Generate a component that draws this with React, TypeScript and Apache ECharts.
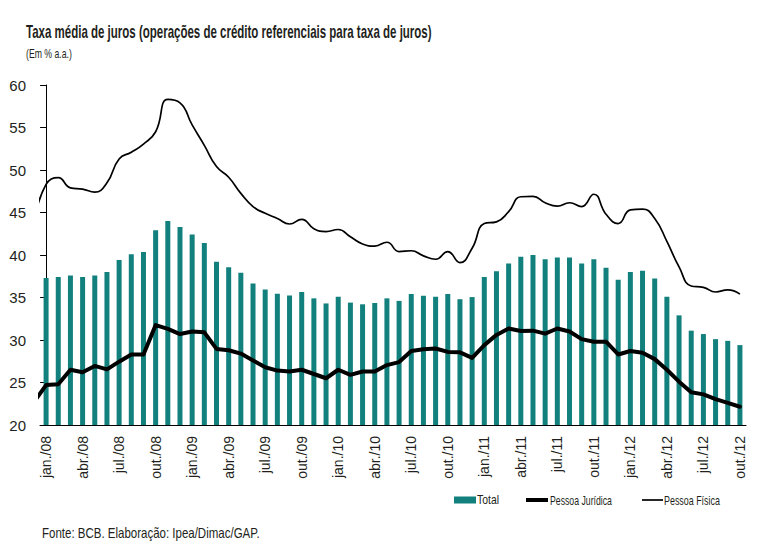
import React, { useEffect, useRef } from 'react';
import * as echarts from 'echarts';

const monthNames = ['jan.', 'fev.', 'mar.', 'abr.', 'mai.', 'jun.', 'jul.', 'ago.', 'set.', 'out.', 'nov.', 'dez.'];
const years = ['08', '09', '10', '11', '12'];
const categories = years.flatMap((y) => monthNames.map((m) => `${m}/${y}`)).slice(0, 58);

// Total (bars)
const total = [
  37.3, 37.4, 37.6, 37.4, 37.6, 38.0, 39.4, 40.1, 40.35, 42.9,
  44.0, 43.3, 42.4, 41.4, 39.2, 38.55, 37.9, 36.65, 35.95, 35.45,
  35.25, 35.65, 34.9, 34.3, 35.1, 34.4, 34.2, 34.35, 34.9, 34.6,
  35.4, 35.2, 35.1, 35.4, 34.8, 35.05, 37.4, 38.1, 39.0, 39.8,
  40.0, 39.5, 39.7, 39.7, 39.0, 39.5, 38.5, 37.1, 38.0, 38.15,
  37.25, 35.1, 32.9, 31.1, 30.7, 30.1, 29.9, 29.4,
];

// Pessoa Jurídica (thick line)
const pessoaJuridica = [
  24.7, 24.8, 26.5, 26.2, 26.95, 26.55, 27.45, 28.3, 28.3, 31.75,
  31.3, 30.7, 31.0, 30.9, 28.95, 28.8, 28.4, 27.6, 26.8, 26.4,
  26.3, 26.5, 26.0, 25.5, 26.5, 25.9, 26.3, 26.3, 27.05, 27.4,
  28.7, 28.9, 29.0, 28.6, 28.55, 27.9, 29.4, 30.6, 31.35, 31.05,
  31.1, 30.75, 31.35, 31.0, 30.1, 29.8, 29.8, 28.3, 28.7, 28.5,
  27.75, 26.5, 25.1, 23.85, 23.6, 23.05, 22.6, 22.15,
];

// Pessoa Física (thin line)
const pessoaFisica = [
  48.3, 49.1, 47.9, 47.75, 47.4, 48.5, 51.3, 52.1, 53.05, 54.5,
  58.3, 57.9, 55.3, 52.9, 50.4, 49.15, 47.25, 45.7, 44.9, 44.3,
  43.65, 44.2, 43.1, 42.75, 43.0, 42.15, 41.3, 41.05, 41.5, 40.4,
  40.5, 39.9, 39.5, 40.4, 39.1, 40.8, 43.7, 43.9, 45.1, 46.85,
  46.9, 46.15, 45.75, 46.15, 45.7, 47.15, 44.8, 43.7, 45.3, 45.4,
  44.3, 41.6, 38.6, 36.35, 36.2, 35.65, 35.9, 35.4,
];

// Previous month (dez./07), only visible as the clipped start of the lines
const priorPessoaJuridica = 22.7;
const priorPessoaFisica = 44.0;

const yMin = 20;
const yMax = 60;
const yInterval = 5;

const SERIES_NAMES = ['Total', 'Pessoa Jurídica', 'Pessoa Física'];

const TITLE = 'Taxa média de juros (operações de crédito referenciais para taxa de juros)';
const SUBTITLE = '(Em % a.a.)';
const SOURCE = 'Fonte: BCB. Elaboração: Ipea/Dimac/GAP.';

const TEAL = '#12807d';
const TEXT = '#231f20';
const FONT = "'Liberation Sans', Arial, sans-serif";

function fitScale(text: string, font: string, target: number): number {
  const c = document.createElement('canvas');
  const ctx = c.getContext('2d');
  if (!ctx) return 1;
  ctx.font = font;
  const w = ctx.measureText(text).width;
  return w > 0 ? target / w : 1;
}

function withIndex(prior: number, arr: number[]) {
  return [[-1, prior], ...arr.map((v, i) => [i, v])];
}

function scaledText(text: string, font: string, x: number, y: number, width: number) {
  return {
    type: 'text',
    x,
    y,
    scaleX: fitScale(text, font, width),
    style: { text, font, fill: TEXT, verticalAlign: 'middle' },
  };
}

export default function App() {
  const ref = useRef<HTMLDivElement>(null);

  useEffect(() => {
    if (!ref.current) return;
    const chart = echarts.init(ref.current, undefined, { renderer: 'svg' });

    const titleFont = `bold 19px ${FONT}`;
    const subFont = `13px ${FONT}`;
    const srcFont = `14px ${FONT}`;
    const legFont = `12.5px ${FONT}`;

    // legend layout (icon left, text left, text width)
    const legY = 500;
    const legendGraphic = [
      { type: 'rect', shape: { x: 454, y: legY - 3.5, width: 22, height: 7 }, style: { fill: TEAL } },
      scaledText(SERIES_NAMES[0], legFont, 477, legY, 22),
      { type: 'line', shape: { x1: 526, y1: legY, x2: 548, y2: legY }, style: { stroke: '#000', lineWidth: 4 } },
      scaledText(SERIES_NAMES[1], legFont, 550, legY, 62),
      { type: 'line', shape: { x1: 642, y1: legY, x2: 663, y2: legY }, style: { stroke: '#000', lineWidth: 1.7 } },
      scaledText(SERIES_NAMES[2], legFont, 664, legY, 56),
    ];

    chart.setOption({
      animation: false,
      backgroundColor: '#ffffff',
      grid: { left: 40, right: 12, top: 85, bottom: 118, containLabel: false },
      graphic: [
        scaledText(TITLE, titleFont, 26, 31, 406),
        scaledText(SUBTITLE, subFont, 26, 53, 46),
        scaledText(SOURCE, srcFont, 42, 533, 218),
        ...legendGraphic,
      ],
      xAxis: [
        {
          type: 'category',
          data: categories,
          boundaryGap: true,
          axisLine: { lineStyle: { color: '#000', width: 1 } },
          axisTick: { interval: 2, length: 5, lineStyle: { color: '#000' } },
          axisLabel: {
            interval: 2,
            rotate: 90,
            margin: 11,
            fontSize: 14,
            color: TEXT,
            fontFamily: FONT,
          },
        },
        { type: 'value', min: -0.5, max: 57.5, show: false },
      ],
      yAxis: {
        type: 'value',
        min: yMin,
        max: yMax,
        interval: yInterval,
        axisLine: { show: true, lineStyle: { color: '#000', width: 1 } },
        axisTick: { show: true, length: 6, lineStyle: { color: '#000' } },
        splitLine: { show: false },
        axisLabel: { fontSize: 15, margin: 14, color: TEXT, fontFamily: FONT },
      },
      series: [
        {
          name: SERIES_NAMES[0],
          type: 'bar',
          data: total,
          barWidth: 5,
          itemStyle: { color: TEAL },
        },
        {
          name: SERIES_NAMES[1],
          type: 'line',
          xAxisIndex: 1,
          data: withIndex(priorPessoaJuridica, pessoaJuridica),
          symbol: 'none',
          clip: true,
          smooth: false,
          itemStyle: { color: '#000' },
          lineStyle: { color: '#000', width: 4, join: 'round', cap: 'round' },
          z: 3,
        },
        {
          name: SERIES_NAMES[2],
          type: 'line',
          xAxisIndex: 1,
          data: withIndex(priorPessoaFisica, pessoaFisica),
          symbol: 'none',
          clip: true,
          smooth: 0.5,
          itemStyle: { color: '#000' },
          lineStyle: { color: '#000', width: 1.7 },
          z: 4,
        },
      ],
    });

    return () => chart.dispose();
  }, []);

  return <div ref={ref} style={{ width: 758, height: 543, position: 'absolute', left: 0, top: 0 }} />;
}
